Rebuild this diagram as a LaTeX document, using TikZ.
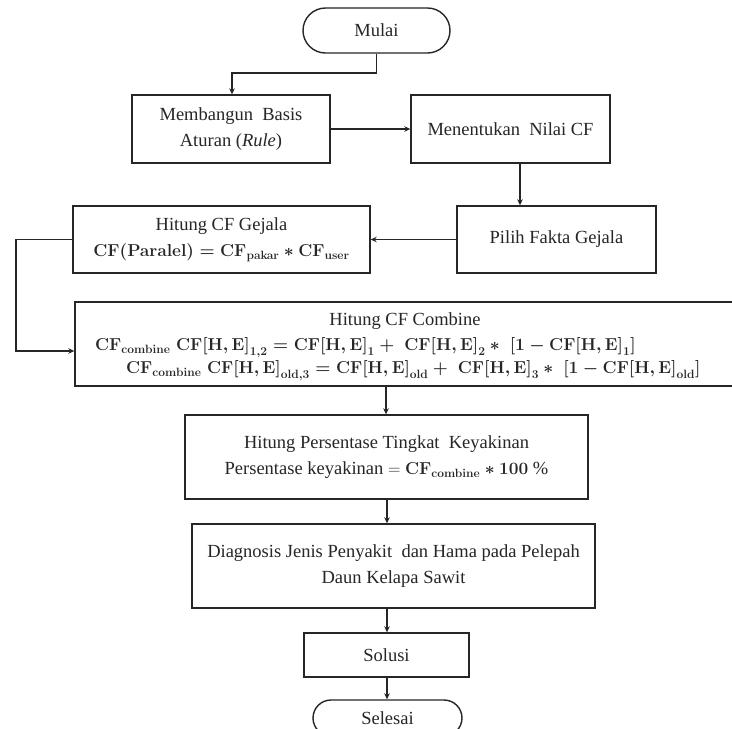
\documentclass[tikz,border=0pt]{standalone}
\usepackage{fontspec}
\setmainfont{Liberation Serif}
\usetikzlibrary{arrows.meta,shapes.misc}
\newcommand{\bcf}[1]{\mathbf{CF}\mathbf{[}\mathbf{H,E}\mathbf{]}_{\mathbf{#1}}}
\newcommand{\formGejala}{{\boldmath$\mathbf{CF}(\mathbf{Paralel}) = \mathbf{CF}_{\mathbf{pakar}} \ast \mathbf{CF}_{\mathbf{user}}$}}
\newcommand{\formCombA}{{\boldmath$\mathbf{CF}_{\mathbf{combine}}\;\bcf{1,2} = \bcf{1} +\; \bcf{2} \ast\; \mathbf{[}\mathbf{1} - \bcf{1}\mathbf{]}$}}
\newcommand{\formCombB}{{\boldmath$\mathbf{CF}_{\mathbf{combine}}\;\bcf{old,3} = \bcf{old} +\; \bcf{3} \ast\; \mathbf{[}\mathbf{1} - \bcf{old}\mathbf{]}$}}
\newcommand{\formPers}{{\boldmath$\mathbf{CF}_{\mathbf{combine}} \ast \mathbf{100}$}}
\begin{document}
\begin{tikzpicture}[x=1pt,y=-1pt,
  every node/.style={font=\fontsize{18.5}{26}\selectfont, text=black!85},
  box/.style={draw=black!85, line width=1.4pt, inner sep=0pt, align=center},
  term/.style={draw=black!85, line width=1.4pt, rounded rectangle, inner sep=0pt},
  txt/.style={inner sep=0pt, anchor=west, font=\fontsize{16.5}{24}\selectfont},
  arr/.style={draw=black!85, line width=1.1pt, -{Stealth[length=6pt,width=5.5pt]}}
]
\useasboundingbox (0,0) rectangle (732,729);
\fill[white] (0,0) rectangle (732,729);

\node[term, minimum width=147pt, minimum height=45pt] (mulai) at (376.5,30.5) {Mulai};
\node[box, minimum width=198pt, minimum height=68pt] (memb) at (231,129) {Membangun\ \ Basis\\Aturan (\textit{Rule})};
\node[box, minimum width=199pt, minimum height=68pt] (ment) at (510.5,129) {Menentukan\ \ Nilai CF};
\node[box, minimum width=199pt, minimum height=67pt] (pilih) at (556.5,239.5) {Pilih Fakta Gejala};
\node[box, minimum width=297pt, minimum height=67pt] (gejala) at (221.5,239.5) {Hitung CF Gejala\\ {\fontsize{17}{25}\selectfont\formGejala}};
\node[box, minimum width=665pt, minimum height=84pt] (comb) at (407.5,344) {};
\node[inner sep=0pt] (combt) at (405,321) {Hitung CF Combine};
\node[txt] (comb1) at (95,348) {\formCombA};
\node[txt] (comb2) at (126,371) {\formCombB};
\node[box, minimum width=403pt, minimum height=84pt] (pers) at (386.5,457)
  {Hitung Persentase Tingkat\ \ Keyakinan\\ Persentase keyakinan $=$ \formPers\ \%};
\node[box, minimum width=403pt, minimum height=84pt] (diag) at (393.5,566)
  {Diagnosis Jenis Penyakit\ \ dan Hama pada Pelepah\\ Daun Kelapa Sawit};
\node[box, minimum width=165pt, minimum height=44pt] (solusi) at (386.5,655) {Solusi};
\node[term, minimum width=149pt, minimum height=36pt] (selesai) at (387.5,718) {Selesai};

\coordinate (k1) at (232,73);
\coordinate (k2) at (520,0);
\coordinate (k3) at (16,351);
\coordinate (k4) at (386,0);
\coordinate (k5) at (387,0);

\draw[arr] (mulai.south) |- (k1) -| (memb.north -| k1);
\draw[arr] (memb.east) -- (ment.west);
\draw[arr] (ment.south -| k2) -- (pilih.north -| k2);
\draw[arr] (pilih.west) -- (gejala.east);
\draw[arr] (gejala.west) -| (k3) -- (comb.west |- k3);
\draw[arr] (comb.south -| k4) -- (pers.north -| k4);
\draw[arr] (pers.south -| k5) -- (diag.north -| k5);
\draw[arr] (diag.south -| k5) -- (solusi.north -| k5);
\draw[arr] (solusi.south -| k5) -- (selesai.north -| k5);
\end{tikzpicture}
\end{document}
